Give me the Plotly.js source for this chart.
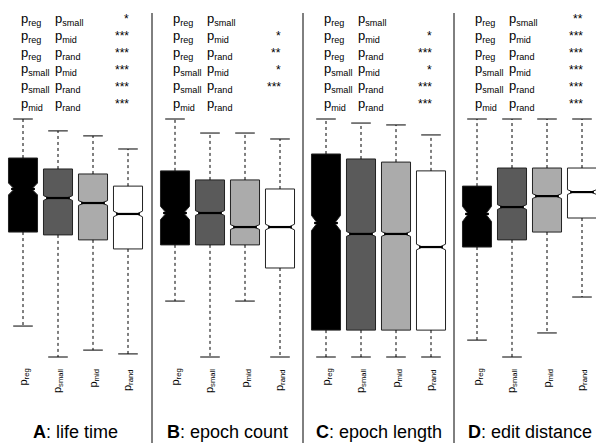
<!DOCTYPE html>
<html><head><meta charset="utf-8">
<script src="https://cdn.plot.ly/plotly-3.0.1.min.js"></script>
<style>html,body{margin:0;padding:0;background:#fff}</style>
</head><body><div id="chart" style="width:596px;height:443px"></div>
<script>
// ---- data ----
const categories = ['p<sub>reg</sub>', 'p<sub>small</sub>', 'p<sub>mid</sub>', 'p<sub>rand</sub>'];
const panelTitles = ['<b>A</b>: life time', '<b>B</b>: epoch count', '<b>C</b>: epoch length', '<b>D</b>: edit distance'];
const boxColors = ['#000000', '#5a5a5a', '#ababab', '#ffffff'];

// A: life time (normalised scale 0-100)
const lifeLower  = [13.0, 0.0, 2.9, 1.3];
const lifeQ1     = [52.5, 51.3, 49.2, 45.4];
const lifeMedian = [70.6, 66.8, 64.7, 60.1];
const lifeQ3     = [83.6, 79.0, 76.9, 71.8];
const lifeUpper  = [100, 95.0, 92.9, 87.4];
const lifeNotch  = [2.5, 1.0, 1.0, 1.2];

// B: epoch count
const countLower  = [23.5, 0.0, 23.5, 0.0];
const countQ1     = [47.1, 47.1, 47.1, 37.4];
const countMedian = [60.5, 60.5, 54.6, 54.6];
const countQ3     = [78.2, 74.4, 74.4, 70.6];
const countUpper  = [100, 94.1, 94.1, 91.6];
const countNotch  = [2.8, 1.0, 1.0, 1.2];

// C: epoch length
const lengthLower  = [0.0, 0.0, 0.0, 0.0];
const lengthQ1     = [11.3, 11.3, 11.3, 11.3];
const lengthMedian = [56.3, 51.7, 51.7, 46.2];
const lengthQ3     = [85.3, 83.2, 81.9, 78.2];
const lengthUpper  = [100, 98.3, 97.5, 93.3];
const lengthNotch  = [3.2, 1.0, 1.0, 1.2];

// D: edit distance
const editLower  = [7.1, 0.0, 10.1, 25.2];
const editQ1     = [46.2, 49.2, 52.5, 58.4];
const editMedian = [60.1, 63.0, 67.6, 69.3];
const editQ3     = [71.8, 79.4, 79.4, 79.4];
const editUpper  = [100, 100, 100, 100];
const editNotch  = [3.2, 1.0, 1.0, 1.0];

// significance table
const pairFirst  = ['p<sub>reg</sub>', 'p<sub>reg</sub>', 'p<sub>reg</sub>', 'p<sub>small</sub>', 'p<sub>small</sub>', 'p<sub>mid</sub>'];
const pairSecond = ['p<sub>small</sub>', 'p<sub>mid</sub>', 'p<sub>rand</sub>', 'p<sub>mid</sub>', 'p<sub>rand</sub>', 'p<sub>rand</sub>'];
const lifeStars   = ['*', '***', '***', '***', '***', '***'];
const countStars  = ['', '*', '**', '*', '***', ''];
const lengthStars = ['', '*', '***', '*', '***', '***'];
const editStars   = ['**', '***', '***', '***', '***', '***'];

// ---- build ----
const panels = [
  {lo: lifeLower, q1: lifeQ1, med: lifeMedian, q3: lifeQ3, hi: lifeUpper, notch: lifeNotch, stars: lifeStars},
  {lo: countLower, q1: countQ1, med: countMedian, q3: countQ3, hi: countUpper, notch: countNotch, stars: countStars},
  {lo: lengthLower, q1: lengthQ1, med: lengthMedian, q3: lengthQ3, hi: lengthUpper, notch: lengthNotch, stars: lengthStars},
  {lo: editLower, q1: editQ1, med: editMedian, q3: editQ3, hi: editUpper, notch: editNotch, stars: editStars}
];

const W = 596, H = 443;
const panelStart = [0, 152, 303, 454];
const panelWidth = 151;
const pxPerCat = 35, firstOffset = 23;
const plotTop = 112, plotBottom = 359;
const zeroPx = 357, pxPerUnit = 2.38;
const font = 'Liberation Sans, Arial, Helvetica, sans-serif';

const traces = [];
const layout = {
  width: W, height: H,
  margin: {l: 0, r: 0, t: 0, b: 0},
  paper_bgcolor: '#fff', plot_bgcolor: 'rgba(0,0,0,0)',
  showlegend: false, hovermode: false,
  font: {family: font, color: '#000'},
  boxmode: 'overlay',
  shapes: [], annotations: []
};

panels.forEach((p, i) => {
  const sfx = i === 0 ? '' : String(i + 1);
  const xa = 'x' + sfx, ya = 'y' + sfx;
  const x0 = panelStart[i];
  const x1 = Math.min(W, x0 + panelWidth);
  const r0 = -firstOffset / pxPerCat;
  layout['xaxis' + sfx] = {
    domain: [x0 / W, x1 / W], anchor: ya, type: 'category',
    categoryorder: 'array', categoryarray: categories,
    range: [r0, r0 + (x1 - x0) / pxPerCat],
    showgrid: false, zeroline: false, showline: false, ticks: '',
    showticklabels: false, fixedrange: true
  };
  layout['yaxis' + sfx] = {
    domain: [(H - plotBottom) / H, (H - plotTop) / H], anchor: xa,
    range: [(zeroPx - plotBottom) / pxPerUnit, (zeroPx - plotTop) / pxPerUnit],
    visible: false, fixedrange: true
  };

  categories.forEach((c, j) => {
    traces.push({
      type: 'box', x: [c], xaxis: xa, yaxis: ya,
      q1: [p.q1[j]], median: [p.med[j]], q3: [p.q3[j]],
      lowerfence: [p.q1[j]], upperfence: [p.q3[j]],
      notched: true, notchspan: [p.notch[j]], notchwidth: 0.2,
      width: 0.83, whiskerwidth: 0, boxpoints: false,
      fillcolor: boxColors[j], line: {color: '#222', width: 1},
      hoverinfo: 'skip'
    });
    // rotated category label below the axis
    layout.annotations.push({xref: xa, yref: 'paper', x: c, y: 1 - 367 / H,
      xanchor: 'center', yanchor: 'top', textangle: -90, text: c, showarrow: false,
      font: {family: font, size: 11, color: '#000'}});
  });

  // dashed whiskers
  const wx = [], wy = [];
  categories.forEach((c, j) => {
    wx.push(c, c, null, c, c, null);
    wy.push(p.q3[j], p.hi[j], null, p.q1[j], p.lo[j], null);
  });
  traces.push({type: 'scatter', mode: 'lines', x: wx, y: wy, xaxis: xa, yaxis: ya,
    line: {color: '#000', width: 1, dash: '3px,3px'}, hoverinfo: 'skip', connectgaps: false});
  // caps
  traces.push({type: 'scatter', mode: 'markers', x: categories.concat(categories), y: p.hi.concat(p.lo),
    xaxis: xa, yaxis: ya,
    marker: {symbol: 'line-ew', size: 14, color: '#000', line: {color: '#000', width: 1}}, hoverinfo: 'skip'});
  // medians (thick)
  traces.push({type: 'scatter', mode: 'markers', x: categories, y: p.med, xaxis: xa, yaxis: ya,
    marker: {symbol: 'line-ew', size: 17, color: '#000', line: {color: '#000', width: 2.2}}, hoverinfo: 'skip'});

  // significance table
  const rowY = [19, 36, 53, 70, 87, 104];
  rowY.forEach((py, r) => {
    const yy = 1 - py / H;
    layout.annotations.push({xref: 'paper', yref: 'paper', x: (x0 + 19) / W, y: yy, xanchor: 'left', yanchor: 'middle',
      text: pairFirst[r], showarrow: false, font: {family: font, size: 13, color: '#000'}});
    layout.annotations.push({xref: 'paper', yref: 'paper', x: (x0 + 53) / W, y: yy, xanchor: 'left', yanchor: 'middle',
      text: pairSecond[r], showarrow: false, font: {family: font, size: 13, color: '#000'}});
    if (p.stars[r]) layout.annotations.push({xref: 'paper', yref: 'paper', x: (x0 + 131) / W, y: yy, xanchor: 'right', yanchor: 'middle',
      text: p.stars[r], showarrow: false, font: {family: font, size: 12, color: '#000'}});
  });

  // panel title
  layout.annotations.push({xref: 'paper', yref: 'paper', x: (x0 + 75.5) / W, y: 1 - 432 / H, xanchor: 'center', yanchor: 'middle',
    text: panelTitles[i], showarrow: false, font: {family: font, size: 18, color: '#000'}});

  if (i > 0) {
    layout.shapes.push({type: 'line', xref: 'paper', yref: 'paper', x0: x0 / W, x1: x0 / W, y0: 1 - 13 / H, y1: 0,
      line: {color: '#000', width: 1}});
  }
});

Plotly.newPlot('chart', traces, layout, {staticPlot: true, displayModeBar: false});
</script>
</body></html>
